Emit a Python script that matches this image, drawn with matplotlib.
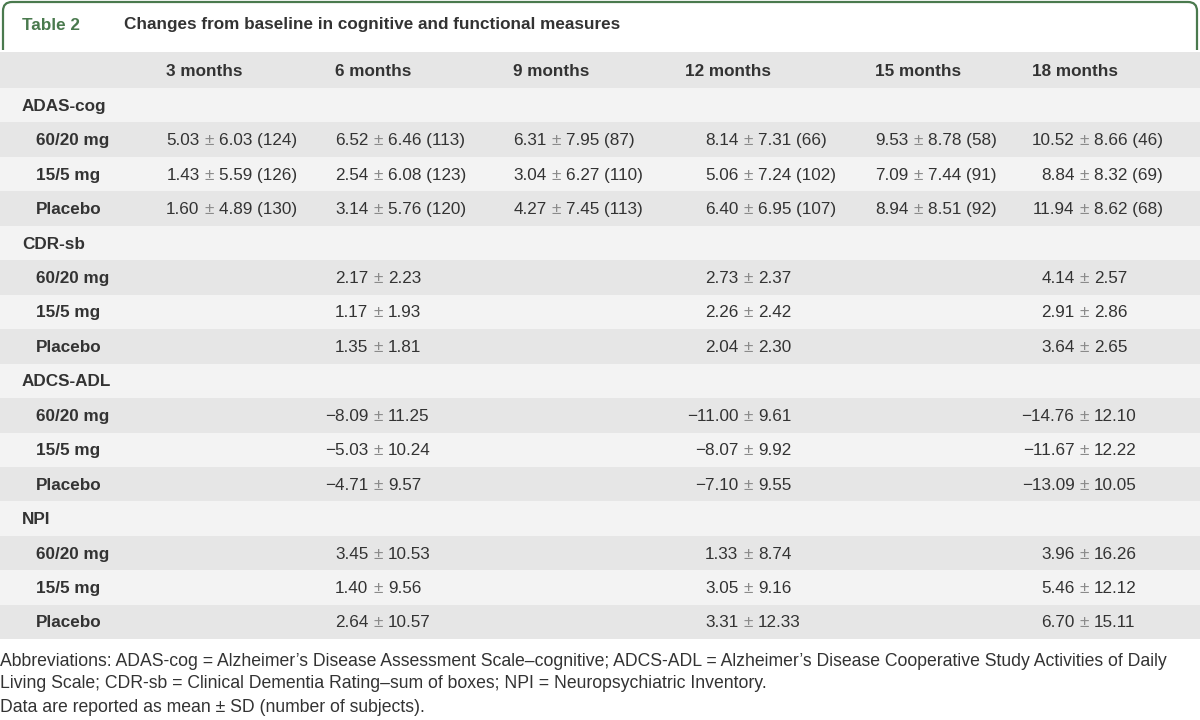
import matplotlib
matplotlib.use("Agg")
import matplotlib.pyplot as plt
from matplotlib.patches import Rectangle, PathPatch
from matplotlib.path import Path

# ---------------- data ----------------
title_num = "Table 2"
title_text = "Changes from baseline in cognitive and functional measures"
months = ["3 months", "6 months", "9 months", "12 months", "15 months", "18 months"]
groups = ["60/20 mg", "15/5 mg", "Placebo"]
measures = ["ADAS-cog", "CDR-sb", "ADCS-ADL", "NPI"]

adas_mean = [[5.03, 6.52, 6.31, 8.14, 9.53, 10.52],
             [1.43, 2.54, 3.04, 5.06, 7.09, 8.84],
             [1.60, 3.14, 4.27, 6.40, 8.94, 11.94]]
adas_sd = [[6.03, 6.46, 7.95, 7.31, 8.78, 8.66],
           [5.59, 6.08, 6.27, 7.24, 7.44, 8.32],
           [4.89, 5.76, 7.45, 6.95, 8.51, 8.62]]
adas_n = [[124, 113, 87, 66, 58, 46],
          [126, 123, 110, 102, 91, 69],
          [130, 120, 113, 107, 92, 68]]

sparse_cols = [1, 3, 5]  # 6, 12, 18 months
cdr_mean = [[2.17, 2.73, 4.14], [1.17, 2.26, 2.91], [1.35, 2.04, 3.64]]
cdr_sd = [[2.23, 2.37, 2.57], [1.93, 2.42, 2.86], [1.81, 2.30, 2.65]]
adl_mean = [[-8.09, -11.00, -14.76], [-5.03, -8.07, -11.67], [-4.71, -7.10, -13.09]]
adl_sd = [[11.25, 9.61, 12.10], [10.24, 9.92, 12.22], [9.57, 9.55, 10.05]]
npi_mean = [[3.45, 1.33, 3.96], [1.40, 3.05, 5.46], [2.64, 3.31, 6.70]]
npi_sd = [[10.53, 8.74, 16.26], [9.56, 9.16, 12.12], [10.57, 12.33, 15.11]]

footnote = ["Abbreviations: ADAS-cog = Alzheimer\u2019s Disease Assessment Scale\u2013cognitive; ADCS-ADL = Alzheimer\u2019s Disease Cooperative Study Activities of Daily",
            "Living Scale; CDR-sb = Clinical Dementia Rating\u2013sum of boxes; NPI = Neuropsychiatric Inventory.",
            "Data are reported as mean \u00b1 SD (number of subjects)."]

# ---------------- style ----------------
GREEN = "#4a7a4e"
TXT = "#333333"
PM = "#8a8a8a"
DARK = "#e6e6e6"
LIGHT = "#f3f3f3"
FONT = "Liberation Sans"
FS = 12.3
FS_NOTE = 12.7

header_x = [166, 335, 513, 685, 875, 1032]
pm_x = [209, 378, 556, 748, 918, 1084]
label_x_section = 22
label_x_group = 36
pm_gap = 9.5

fig = plt.figure(figsize=(12, 7.2), dpi=100)
ax = fig.add_axes([0, 0, 1, 1])
ax.set_xlim(0, 1200)
ax.set_ylim(720, 0)
ax.axis("off")

def fmt(v):
    s = f"{abs(v):.2f}"
    return ("\u2212" + s) if v < 0 else s

# title border
verts = [(3, 50), (3, 11), (3, 2), (12, 2), (1188, 2), (1197, 2), (1197, 11), (1197, 50)]
codes = [Path.MOVETO, Path.LINETO, Path.CURVE3, Path.CURVE3, Path.LINETO, Path.CURVE3, Path.CURVE3, Path.LINETO]
ax.add_patch(PathPatch(Path(verts, codes), fill=False, edgecolor=GREEN, lw=1.6))
ax.text(22, 25, title_num, color=GREEN, fontsize=FS, fontweight="bold", family=FONT, va="center")
ax.text(124, 25, title_text, color=TXT, fontsize=FS, fontweight="bold", family=FONT, va="center")

# header row
header_top, header_bot = 52, 88
ax.add_patch(Rectangle((0, header_top), 1200, header_bot - header_top, facecolor=DARK, edgecolor="none"))
for x, m in zip(header_x, months):
    ax.text(x, (header_top + header_bot) / 2 + 1, m, color=TXT, fontsize=FS, fontweight="bold",
            family=FONT, va="center")

row_h = 34.45

def row_y(i):
    top = header_bot + i * row_h
    color = LIGHT if i % 2 == 0 else DARK
    ax.add_patch(Rectangle((0, top), 1200, row_h, facecolor=color, edgecolor="none"))
    return top + row_h / 2 + 1

def cell(col, y, mean, sd, n=None):
    x = pm_x[col]
    ax.text(x - pm_gap, y, fmt(mean), color=TXT, fontsize=FS, family=FONT, va="center", ha="right")
    ax.text(x, y, "\u00b1", color=PM, fontsize=FS, family=FONT, va="center", ha="center")
    right = f"{sd:.2f}" + (f" ({n})" if n is not None else "")
    ax.text(x + pm_gap + 0.5, y, right, color=TXT, fontsize=FS, family=FONT, va="center", ha="left")

blocks = [
    (measures[0], list(range(6)), adas_mean, adas_sd, adas_n),
    (measures[1], sparse_cols, cdr_mean, cdr_sd, None),
    (measures[2], sparse_cols, adl_mean, adl_sd, None),
    (measures[3], sparse_cols, npi_mean, npi_sd, None),
]

r = 0
for name, cols, means, sds, ns in blocks:
    y = row_y(r)
    ax.text(label_x_section, y, name, color=TXT, fontsize=FS, fontweight="bold", family=FONT, va="center")
    r += 1
    for g, gname in enumerate(groups):
        y = row_y(r)
        ax.text(label_x_group, y, gname, color=TXT, fontsize=FS, fontweight="bold", family=FONT, va="center")
        for k, c in enumerate(cols):
            cell(c, y, means[g][k], sds[g][k], ns[g][k] if ns is not None else None)
        r += 1

# footnote
for i, line in enumerate(footnote):
    ax.text(0, 661 + i * 23, line, color=TXT, fontsize=FS_NOTE, family=FONT, va="center", ha="left")

fig.savefig("out.png", dpi=100, facecolor="white")
